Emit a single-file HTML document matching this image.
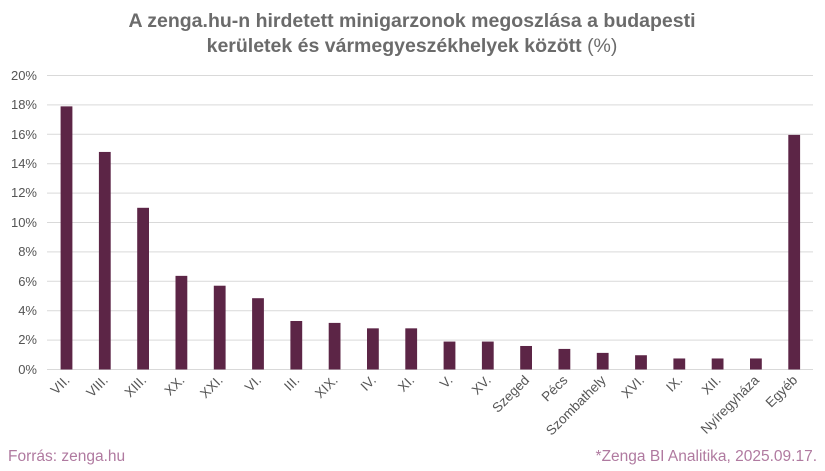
<!DOCTYPE html>
<html><head><meta charset="utf-8"><style>
body{margin:0;background:#fff;}
svg{display:block;font-family:"Liberation Sans",sans-serif;}
</style></head><body>
<svg width="825" height="471" viewBox="0 0 825 471">
<text x="412" y="27" text-anchor="middle" font-size="19.5" font-weight="bold" fill="#6b6b6b">A zenga.hu-n hirdetett minigarzonok megoszlása a budapesti</text>
<text x="412" y="52" text-anchor="middle" font-size="19.5" font-weight="bold" fill="#6b6b6b">kerületek és vármegyeszékhelyek között <tspan font-weight="normal">(%)</tspan></text>
<g stroke="#d9d9d9" stroke-width="1">
<line x1="47" x2="813" y1="75.5" y2="75.5"/><line x1="47" x2="813" y1="104.9" y2="104.9"/><line x1="47" x2="813" y1="134.3" y2="134.3"/><line x1="47" x2="813" y1="163.7" y2="163.7"/><line x1="47" x2="813" y1="193.1" y2="193.1"/><line x1="47" x2="813" y1="222.5" y2="222.5"/><line x1="47" x2="813" y1="251.9" y2="251.9"/><line x1="47" x2="813" y1="281.3" y2="281.3"/><line x1="47" x2="813" y1="310.7" y2="310.7"/><line x1="47" x2="813" y1="340.1" y2="340.1"/><line x1="47" x2="813" y1="369.5" y2="369.5"/>
</g>
<g font-size="13" fill="#555" text-anchor="end">
<text x="37" y="80">20%</text><text x="37" y="109">18%</text><text x="37" y="139">16%</text><text x="37" y="168">14%</text><text x="37" y="197">12%</text><text x="37" y="227">10%</text><text x="37" y="256">8%</text><text x="37" y="286">6%</text><text x="37" y="315">4%</text><text x="37" y="344">2%</text><text x="37" y="374">0%</text>
</g>
<g fill="#5c2546" id="bars"></g>
<g id="labels" font-size="13.5" fill="#555" text-anchor="end"></g>
<text x="8" y="461" font-size="15.5" fill="#b07aa0">Forrás: zenga.hu</text>
<text x="817" y="461" font-size="15.5" fill="#b07aa0" text-anchor="end">*Zenga BI Analitika, 2025.09.17.</text>
<script>
var d=[["VII.",17.9],["VIII.",14.8],["XIII.",11.0],["XX.",6.37],["XXI.",5.7],["VI.",4.85],["III.",3.3],["XIX.",3.17],["IV.",2.8],["XI.",2.8],["V.",1.9],["XV.",1.9],["Szeged",1.6],["Pécs",1.4],["Szombathely",1.13],["XVI.",0.97],["IX.",0.75],["XII.",0.75],["Nyíregyháza",0.75],["Egyéb",15.96]];
var ns="http://www.w3.org/2000/svg",b=document.getElementById("bars"),l=document.getElementById("labels");
d.forEach(function(e,i){var cx=66.5+i*38.3,h=e[1]*14.7;
var r=document.createElementNS(ns,"rect");r.setAttribute("x",cx-5.9);r.setAttribute("width",11.8);r.setAttribute("y",369.5-h);r.setAttribute("height",h);b.appendChild(r);
var t=document.createElementNS(ns,"text");t.setAttribute("transform","translate("+(cx+4)+",381) rotate(-45)");t.textContent=e[0];l.appendChild(t);});
</script>
</svg>
</body></html>
